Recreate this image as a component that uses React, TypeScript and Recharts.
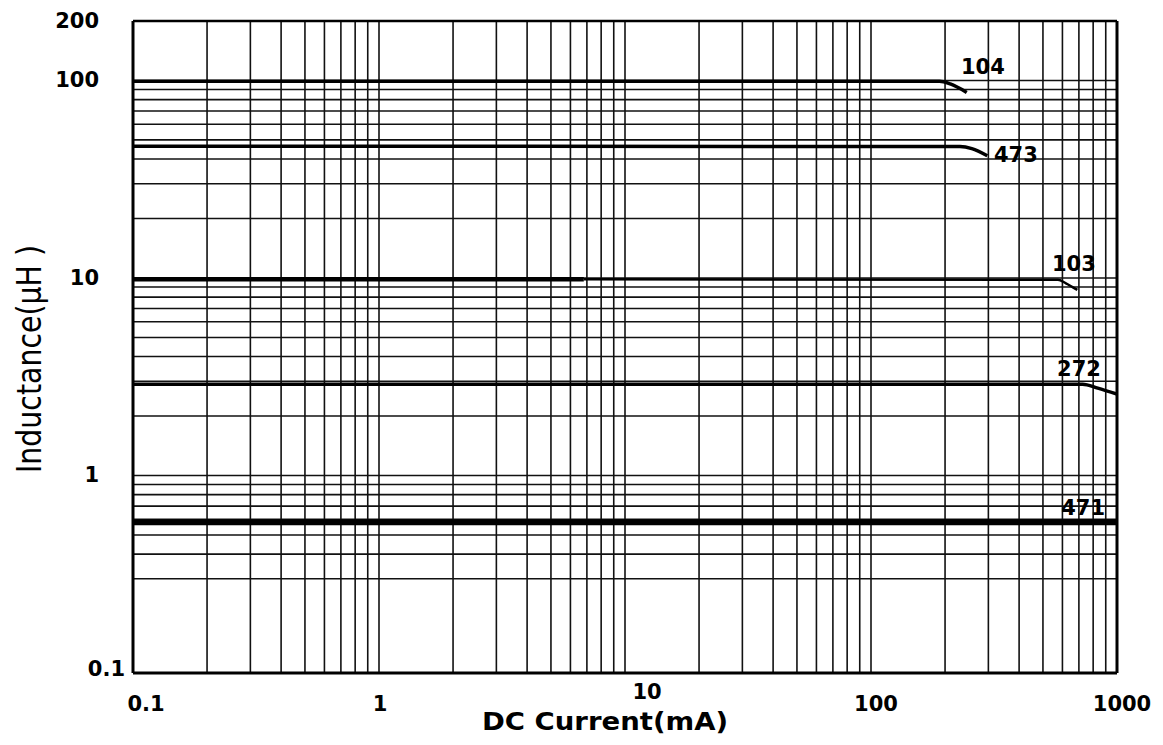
import { LineChart, Line, XAxis, YAxis, ReferenceLine, ReferenceDot } from 'recharts'

// axis ticks and grid (log-log)
const X_TICKS = [0.1, 1, 10, 100, 1000]
const Y_TICKS = [0.1, 1, 10, 100, 200]
const X_GRID = [0.2, 0.3, 0.4, 0.5, 0.6, 0.7, 0.8, 0.9, 1, 2, 3, 4, 5, 6, 7, 8, 9, 10,
    20, 30, 40, 50, 60, 70, 80, 90, 100, 200, 300, 400, 500, 600, 700, 800, 900]
const Y_GRID = [0.3, 0.4, 0.5, 0.6, 0.7, 0.8, 0.9, 1, 2, 3, 4, 5, 6, 7, 8, 9, 10,
    20, 30, 40, 50, 60, 70, 80, 90, 100]

// inductance vs DC current
const curve104 = [
    { x: 0.1, y: 99 },
    { x: 190, y: 99 },
    { x: 210, y: 96 },
    { x: 245, y: 87 },
]
const curve473 = [
    { x: 0.1, y: 46.5 },
    { x: 230, y: 46.3 },
    { x: 257, y: 45.2 },
    { x: 297, y: 41.6 },
]
const curve103a = [
    { x: 0.1, y: 9.85 },
    { x: 6.8, y: 9.85 },
]
const curve103b = [
    { x: 6.8, y: 9.85 },
    { x: 575, y: 9.8 },
    { x: 620, y: 9.4 },
    { x: 690, y: 8.7 },
]
const curve272 = [
    { x: 0.1, y: 2.9 },
    { x: 725, y: 2.9 },
    { x: 835, y: 2.77 },
    { x: 1000, y: 2.58 },
]
const curve471 = [
    { x: 0.1, y: 0.58 },
    { x: 1000, y: 0.58 },
]

const CURVE_LABELS = [
    { name: '104', x: 285, y: 118 },
    { name: '473', x: 388, y: 42 },
    { name: '103', x: 668, y: 11.9 },
    { name: '272', x: 701, y: 3.49 },
    { name: '471', x: 728, y: 0.688 },
]

const FONT = '"DejaVu Sans", "Liberation Sans", Arial, sans-serif'

const X_TICK_SHIFT: Record<string, [number, number]> = {
    '0.1': [13, 0], '1': [1, 0], '10': [22, -12], '100': [5, 0], '1000': [5, 0],
}

function XTick({ x, y, payload }: any) {
    const v = String(payload.value)
    const [dx, dy] = X_TICK_SHIFT[v] ?? [0, 0]
    return (
        <text x={x + dx} y={y + 36 + dy} textAnchor="middle"
            fontFamily={FONT} fontWeight="bold" fontSize={21} fill="#000">
            {v}
        </text>
    )
}

function YTick({ x, y, payload }: any) {
    const v = String(payload.value)
    const small = v === '0.1'
    return (
        <text x={small ? x - 6 : x - 32} y={y + (small ? 3 : 7)} textAnchor="end"
            fontFamily={FONT} fontWeight="bold" fontSize={21} fill="#000">
            {v}
        </text>
    )
}

export default function App() {
    return (
        <div style={{ position: 'absolute', left: 0, top: 0, background: '#fff' }}>
            <LineChart
                width={1163}
                height={745}
                margin={{ top: 21, right: 46, bottom: 0, left: 0 }}
            >
                <XAxis
                    dataKey="x"
                    type="number"
                    scale="log"
                    domain={[0.1, 1000]}
                    ticks={X_TICKS}
                    allowDataOverflow
                    height={72}
                    tickLine={false}
                    tickSize={0}
                    axisLine={{ stroke: '#000', strokeWidth: 3 }}
                    tick={<XTick />}
                    label={{
                        content: () => (
                            <text x={605} y={730} textAnchor="middle" fontFamily={FONT}
                                fontWeight="bold" fontSize={25} fill="#000"
                                textLength={246} lengthAdjust="spacingAndGlyphs">
                                DC Current(mA)
                            </text>
                        ),
                    }}
                />
                <YAxis
                    dataKey="y"
                    type="number"
                    scale="log"
                    domain={[0.1, 200]}
                    ticks={Y_TICKS}
                    allowDataOverflow
                    width={133}
                    tickLine={false}
                    tickSize={0}
                    axisLine={{ stroke: '#000', strokeWidth: 3 }}
                    tick={<YTick />}
                    label={{
                        content: () => (
                            <text x={0} y={0} transform="translate(41 359) rotate(-90)"
                                textAnchor="middle" fontFamily={FONT} fontSize={34} fill="#000"
                                textLength={228} lengthAdjust="spacingAndGlyphs">
                                Inductance(µH )
                            </text>
                        ),
                    }}
                />

                {X_GRID.map(v => (
                    <ReferenceLine key={'gx' + v} x={v} stroke="#111" strokeWidth={1.6} />
                ))}
                {Y_GRID.map(v => (
                    <ReferenceLine key={'gy' + v} y={v} stroke="#111" strokeWidth={1.6} />
                ))}
                <ReferenceLine x={1000} stroke="#000" strokeWidth={3} />
                <ReferenceLine y={200} stroke="#000" strokeWidth={2.5} />

                <Line data={curve104} dataKey="y" type="monotone" stroke="#000" strokeWidth={3.5} dot={false} isAnimationActive={false} />
                <Line data={curve473} dataKey="y" type="monotone" stroke="#000" strokeWidth={3.5} dot={false} isAnimationActive={false} />
                <Line data={curve103a} dataKey="y" type="linear" stroke="#000" strokeWidth={4.5} dot={false} isAnimationActive={false} />
                <Line data={curve103b} dataKey="y" type="monotone" stroke="#000" strokeWidth={2.5} dot={false} isAnimationActive={false} />
                <Line data={curve272} dataKey="y" type="monotone" stroke="#000" strokeWidth={3.5} dot={false} isAnimationActive={false} />
                <Line data={curve471} dataKey="y" type="linear" stroke="#000" strokeWidth={6} dot={false} isAnimationActive={false} />

                {CURVE_LABELS.map(l => (
                    <ReferenceDot
                        key={l.name}
                        x={l.x}
                        y={l.y}
                        r={0}
                        stroke="none"
                        fill="none"
                        label={{
                            value: l.name,
                            position: 'center',
                            fontFamily: FONT,
                            fontWeight: 'bold',
                            fontSize: 21,
                            fill: '#000',
                        }}
                    />
                ))}
            </LineChart>
        </div>
    )
}
